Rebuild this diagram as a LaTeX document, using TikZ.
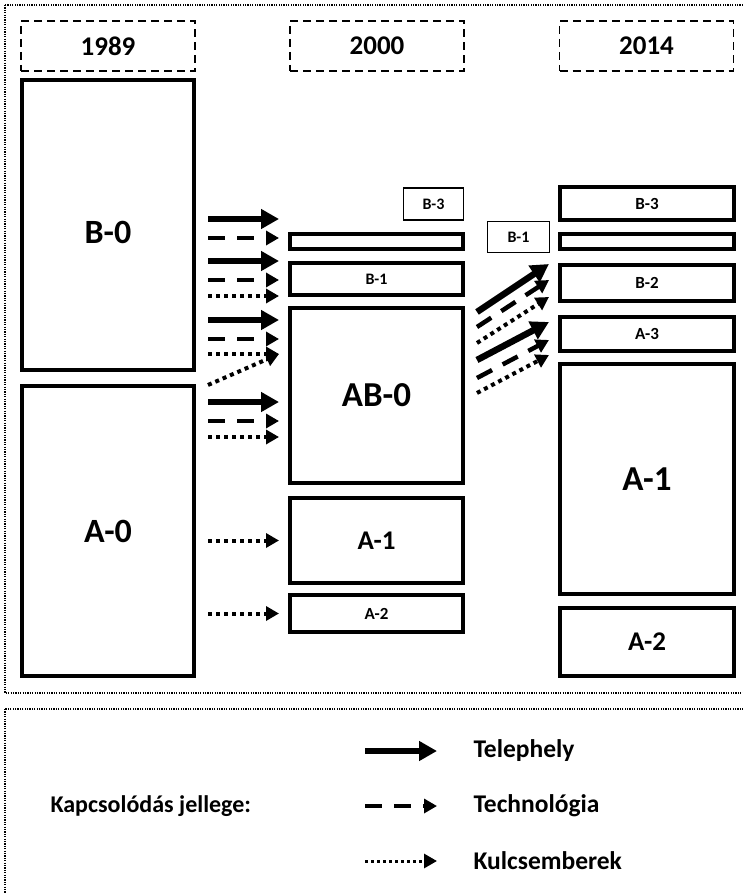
\documentclass[tikz,border=0pt]{standalone}
\usepackage{fontspec}
\setmainfont{Carlito}
\usetikzlibrary{arrows.meta}
\newcommand{\fsz}[1]{\fontsize{#1}{#1}\selectfont}
\tikzset{
  frame/.style={line width=1.1pt,dash pattern=on 1.2pt off 1.2pt},
  yearbox/.style={draw,line width=1.8pt,dash pattern=on 8pt off 5pt,minimum width=174pt,minimum height=50pt,inner sep=0pt,font=\bfseries\fsz{27}},
  unit/.style={draw,line width=4pt,inner sep=0pt,font=\bfseries},
  split/.style={draw,line width=1.3pt,inner sep=0pt,minimum width=60pt,minimum height=32pt,font=\bfseries\fsz{16}},
  tel/.style={line width=6.5pt,-{Triangle[length=18pt,width=19pt]}},
  tech/.style={line width=4.5pt,dash pattern=on 17pt off 12pt,-{Triangle[length=13pt,width=14pt]}},
  kulcs/.style={line width=4pt,dash pattern=on 4pt off 4pt,-{Triangle[length=13pt,width=14pt]}},
}
\begin{document}
\begin{tikzpicture}[x=1pt,y=-1pt]
  \useasboundingbox (0,0) rectangle (743,893);
  \draw[frame] (5,5) rectangle (760,693);
  \draw[frame] (5,709) rectangle (760,910);
  % years
  \node[yearbox] (y1989) at (108,46) {1989};
  \node[yearbox] (y2000) at (377,46) {2000};
  \node[yearbox] (y2014) at (646.5,46) {2014};
  % 1989
  \node[unit,minimum width=172pt,minimum height=290pt,font=\bfseries\fsz{34}] (b0) at (108,225) {\raisebox{-7pt}[\height][\depth]{B-0}};
  \node[unit,minimum width=172pt,minimum height=290pt,font=\bfseries\fsz{34}] (a0) at (108,531) {A-0};
  % 2000
  \node[split] (b3x) at (433.5,204) {B-3};
  \node[unit,minimum width=173pt,minimum height=15pt] (t0) at (376.5,241.5) {};
  \node[unit,minimum width=173pt,minimum height=32pt,font=\bfseries\fsz{16}] (b1) at (376.5,279) {B-1};
  \node[unit,minimum width=173pt,minimum height=175pt,font=\bfseries\fsz{35}] (ab0) at (376.5,395.5) {AB-0};
  \node[unit,minimum width=173pt,minimum height=85pt,font=\bfseries\fsz{27}] (a1) at (376.5,540.5) {A-1};
  \node[unit,minimum width=173pt,minimum height=37pt,font=\bfseries\fsz{17}] (a2) at (376.5,613.5) {A-2};
  % 2014
  \node[split,minimum width=62pt,minimum height=31pt] (b1x) at (518.5,237) {B-1};
  \node[unit,minimum width=174pt,minimum height=33pt,font=\bfseries\fsz{17}] (nb3) at (647,203.5) {B-3};
  \node[unit,minimum width=174pt,minimum height=15pt] (nt) at (647,241.5) {};
  \node[unit,minimum width=174pt,minimum height=36pt,font=\bfseries\fsz{17}] (nb2) at (647,283) {B-2};
  \node[unit,minimum width=174pt,minimum height=34pt,font=\bfseries\fsz{17}] (na3) at (647,334) {A-3};
  \node[unit,minimum width=174pt,minimum height=230pt,font=\bfseries\fsz{35}] (na1) at (647,479) {A-1};
  \node[unit,minimum width=174pt,minimum height=68pt,font=\bfseries\fsz{27}] (na2) at (647,642) {A-2};
  % 1989 -> 2000
  \foreach \y in {219,261,320} \draw[tel] ([xshift=12pt]b0.east |- 0,\y) -- ([xshift=-9pt]ab0.west |- 0,\y);
  \foreach \y in {238,280,339} \draw[tech] ([xshift=12pt]b0.east |- 0,\y) -- ([xshift=-9pt]ab0.west |- 0,\y);
  \foreach \y in {296,354} \draw[kulcs] ([xshift=12pt]b0.east |- 0,\y) -- ([xshift=-9pt]ab0.west |- 0,\y);
  \draw[kulcs] ([xshift=12pt]a0.east |- 0,385) -- ([xshift=-9pt]ab0.west |- 0,354);
  \draw[tel] ([xshift=12pt]a0.east |- 0,402) -- ([xshift=-9pt]ab0.west |- 0,402);
  \draw[tech] ([xshift=12pt]a0.east |- 0,421) -- ([xshift=-9pt]ab0.west |- 0,421);
  \draw[kulcs] ([xshift=12pt]a0.east |- 0,437) -- ([xshift=-9pt]ab0.west |- 0,437);
  \draw[kulcs] ([xshift=12pt]a0.east |- a1) -- ([xshift=-9pt]a1.west);
  \draw[kulcs] ([xshift=12pt]a0.east |- a2) -- ([xshift=-9pt]a2.west);
  % 2000 -> 2014
  \draw[tel] ([xshift=12pt]ab0.east |- 0,312) -- ([xshift=-9pt]nb2.west |- 0,264);
  \draw[tech] ([xshift=12pt]ab0.east |- 0,327) -- ([xshift=-9pt]nb2.west |- 0,280);
  \draw[kulcs] ([xshift=12pt]ab0.east |- 0,343) -- ([xshift=-9pt]nb2.west |- 0,297);
  \draw[tel] ([xshift=12pt]ab0.east |- 0,360) -- ([xshift=-9pt]na3.west |- 0,322);
  \draw[tech] ([xshift=12pt]ab0.east |- 0,378) -- ([xshift=-9pt]na3.west |- 0,340);
  \draw[kulcs] ([xshift=12pt]ab0.east |- 0,393) -- ([xshift=-9pt]na3.west |- 0,355);
  % legend
  \node[font=\bfseries\fsz{24},anchor=west] (kap) at (47,806) {Kapcsolódás jellege:};
  \node[font=\bfseries\fsz{25.5},anchor=west] (ltel) at (470,751) {Telephely};
  \node[font=\bfseries\fsz{25.5},anchor=west] (ltech) at (470,806) {Technológia};
  \node[font=\bfseries\fsz{25.5},anchor=west] (lkulcs) at (470,861) {Kulcsemberek};
  \draw[tel] ([xshift=-105pt]ltel.west) -- ([xshift=-33pt]ltel.west);
  \draw[tech] ([xshift=-105pt]ltech.west) -- ([xshift=-33pt]ltech.west);
  \draw[kulcs,line width=3pt,dash pattern=on 3pt off 3pt] ([xshift=-105pt]lkulcs.west) -- ([xshift=-33pt]lkulcs.west);
\end{tikzpicture}
\end{document}
